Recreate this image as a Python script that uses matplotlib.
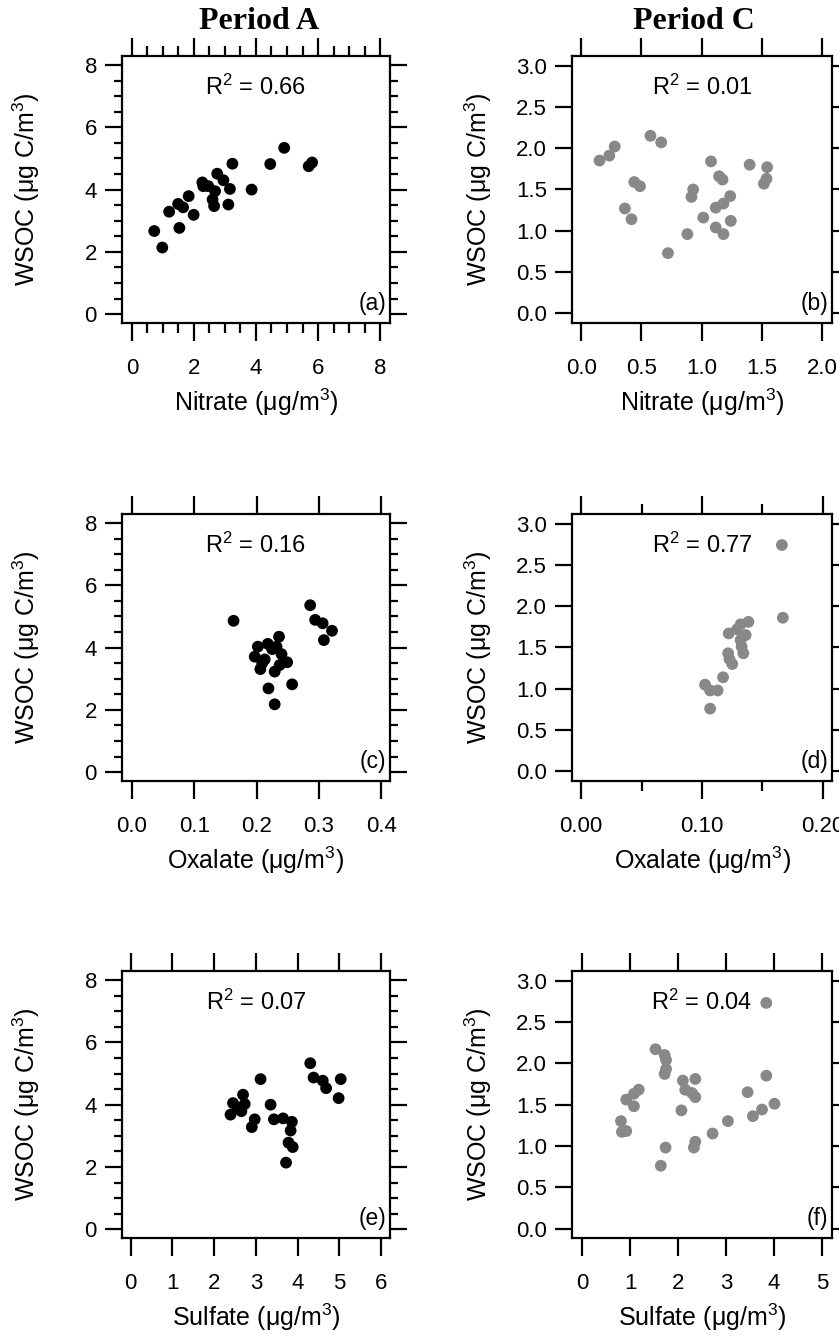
import matplotlib
matplotlib.use("Agg")
from matplotlib import pyplot as plt
from matplotlib.ticker import MultipleLocator, FormatStrFormatter

plt.rcParams['font.family'] = ['Liberation Sans', 'DejaVu Sans']
plt.rcParams['mathtext.fontset'] = 'custom'
plt.rcParams['mathtext.rm'] = 'Liberation Sans'
plt.rcParams['mathtext.it'] = 'Liberation Sans'

# Period A: nitrate vs WSOC
nitrate_a = [0.72, 0.98, 1.20, 1.53, 1.49, 1.65, 1.83, 1.99, 2.27, 2.30, 2.46, 2.68,
             2.60, 2.65, 2.75, 2.95, 3.16, 3.11, 3.24, 3.86, 4.46, 4.91, 5.70, 5.81]
wsoc_na = [2.67, 2.14, 3.29, 2.77, 3.54, 3.43, 3.79, 3.19, 4.23, 4.11, 4.11, 3.95,
           3.68, 3.47, 4.51, 4.30, 4.02, 3.52, 4.83, 4.00, 4.82, 5.34, 4.75, 4.87]

# Period C: nitrate vs WSOC
nitrate_c = [0.153, 0.234, 0.279, 0.575, 0.664, 0.441, 0.488, 0.363, 0.418, 0.720,
             0.881, 0.929, 0.915, 1.013, 1.077, 1.144, 1.172, 1.116, 1.180, 1.236,
             1.116, 1.180, 1.241, 1.397, 1.542, 1.537, 1.515]
wsoc_nc = [1.85, 1.91, 2.02, 2.15, 2.07, 1.59, 1.54, 1.27, 1.14, 0.73,
           0.96, 1.50, 1.41, 1.16, 1.84, 1.66, 1.62, 1.28, 1.33, 1.42,
           1.04, 0.96, 1.12, 1.80, 1.77, 1.63, 1.57]

# Period A: oxalate vs WSOC
oxalate_a = [0.163, 0.286, 0.294, 0.306, 0.321, 0.308, 0.236, 0.202, 0.218, 0.232,
             0.240, 0.249, 0.237, 0.229, 0.206, 0.197, 0.213, 0.225, 0.209, 0.219,
             0.257, 0.229]
wsoc_oa = [4.86, 5.36, 4.89, 4.78, 4.54, 4.24, 4.35, 4.03, 4.12, 4.03,
           3.79, 3.53, 3.44, 3.23, 3.31, 3.71, 3.62, 3.95, 3.50, 2.69,
           2.82, 2.18]

# Period C: oxalate vs WSOC
oxalate_c = [0.1661, 0.1669, 0.1384, 0.1319, 0.1221, 0.1361, 0.1319, 0.1328, 0.1342,
             0.1216, 0.1227, 0.1250, 0.1174, 0.1025, 0.1067, 0.1129, 0.1067, 0.1290]
wsoc_oc = [2.74, 1.86, 1.81, 1.78, 1.67, 1.65, 1.59, 1.51, 1.43,
           1.43, 1.36, 1.30, 1.14, 1.05, 0.98, 0.98, 0.76, 1.72]

# Period A: sulfate vs WSOC
sulfate_a = [4.30, 3.11, 4.38, 4.60, 4.68, 5.03, 4.98, 2.69, 2.45, 2.73, 2.65, 2.39,
             2.97, 2.90, 3.35, 3.43, 3.65, 3.86, 3.83, 3.78, 3.88, 3.72, 2.57]
wsoc_sa = [5.33, 4.82, 4.87, 4.77, 4.53, 4.82, 4.21, 4.32, 4.05, 4.02, 3.79, 3.68,
           3.53, 3.28, 4.00, 3.53, 3.56, 3.45, 3.17, 2.78, 2.64, 2.14, 3.90]

# Period C: sulfate vs WSOC
sulfate_c = [3.84, 1.53, 1.72, 1.75, 1.75, 1.72, 2.10, 2.36, 2.15, 2.29, 2.36, 2.07,
             1.18, 1.08, 0.92, 1.08, 0.81, 0.83, 0.92, 1.74, 1.64, 2.36, 2.33, 2.72,
             3.04, 3.45, 3.56, 3.75, 3.84, 4.01]
wsoc_sc = [2.73, 2.17, 2.10, 2.04, 1.93, 1.87, 1.79, 1.81, 1.68, 1.64, 1.59, 1.43,
           1.68, 1.63, 1.56, 1.48, 1.30, 1.17, 1.18, 0.98, 0.76, 1.05, 0.98, 1.15,
           1.30, 1.65, 1.36, 1.44, 1.85, 1.51]

r2_text = ["0.66", "0.01", "0.16", "0.77", "0.07", "0.04"]
letters = ["(a)", "(b)", "(c)", "(d)", "(e)", "(f)"]
xnames = ["Nitrate", "Oxalate", "Sulfate"]

fig = plt.figure(figsize=(8.39, 13.40), dpi=100)

col_x = [0.1454, 0.6818]
col_w = [0.3194, 0.3099]
row_y = [0.759, 0.4172, 0.0761]
h = 0.1995

BLACK = "black"
GRAY = "#888888"

panels = [
    (nitrate_a, wsoc_na, BLACK, (-0.32, 8.32), 2, 0.5, "%d"),
    (nitrate_c, wsoc_nc, GRAY, (-0.075, 2.08), 0.5, None, "%.1f"),
    (oxalate_a, wsoc_oa, BLACK, (-0.016, 0.414), 0.1, None, "%.1f"),
    (oxalate_c, wsoc_oc, GRAY, (-0.0076, 0.2076), 0.1, 0.05, "%.2f"),
    (sulfate_a, wsoc_sa, BLACK, (-0.21, 6.21), 1, None, "%d"),
    (sulfate_c, wsoc_sc, GRAY, (-0.21, 5.21), 1, None, "%d"),
]

for i, (xv, yv, color, xlim, xmaj, xmin, xfmt) in enumerate(panels):
    row, col = i // 2, i % 2
    ax = fig.add_axes([col_x[col], row_y[row], col_w[col], h])
    ax.scatter(xv, yv, s=72, color=color, edgecolors='none', zorder=3, clip_on=False)
    ax.set_xlim(xlim)
    ax.xaxis.set_major_locator(MultipleLocator(xmaj))
    ax.xaxis.set_major_formatter(FormatStrFormatter(xfmt))
    if xmin:
        ax.xaxis.set_minor_locator(MultipleLocator(xmin))
    if col == 0:
        ax.set_ylim(-0.28, 8.3)
        ax.yaxis.set_major_locator(MultipleLocator(2))
        ax.yaxis.set_minor_locator(MultipleLocator(0.5))
        ax.yaxis.set_major_formatter(FormatStrFormatter("%d"))
    else:
        ax.set_ylim(-0.115, 3.12)
        ax.yaxis.set_major_locator(MultipleLocator(0.5))
        ax.yaxis.set_major_formatter(FormatStrFormatter("%.1f"))

    for s in ax.spines.values():
        s.set_linewidth(1.6)
    ax.tick_params(which='both', direction='out', top=True, right=True, width=1.6,
                   labelsize=16)
    ax.tick_params(axis='x', which='major', length=13, pad=12)
    ax.tick_params(axis='x', which='minor', length=7)
    ax.tick_params(axis='y', which='major', length=12, pad=6)
    ax.tick_params(axis='y', which='minor', length=6)

    ax.set_xlabel(xnames[row] + r" ($\mu$g/m$^3$)", fontsize=18, labelpad=6)
    ax.set_ylabel(r"WSOC ($\mu$g C/m$^3$)", fontsize=18)
    ax.yaxis.set_label_coords(-0.30, 0.5)

    ax.text(0.5, 0.88, "R$^2$ = " + r2_text[i], transform=ax.transAxes,
            ha='center', va='center', fontsize=17)
    ax.text(0.985, 0.03, letters[i], transform=ax.transAxes,
            ha='right', va='bottom', fontsize=16.5)

fig.text(col_x[0] + col_w[0] * 0.51, 0.984, "Period A", ha='center', va='center',
         fontsize=23, fontweight='bold', family=['Liberation Serif', 'DejaVu Serif'])
fig.text(col_x[1] + col_w[1] * 0.47, 0.984, "Period C", ha='center', va='center',
         fontsize=23, fontweight='bold', family=['Liberation Serif', 'DejaVu Serif'])

fig.savefig("out.png", dpi=100)
